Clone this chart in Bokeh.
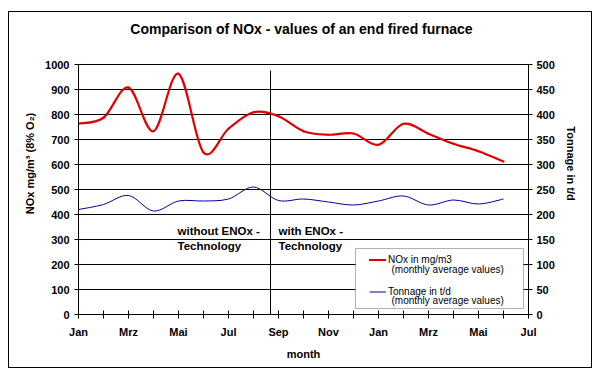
from bokeh.plotting import figure
from bokeh.models import (Range1d, LinearAxis, FixedTicker, Label, BoxAnnotation,
                          Legend, LegendItem, ColumnDataSource, Title)
from bokeh.embed import file_html
from bokeh.resources import INLINE

# ---------------- data ----------------
month_names = ["Jan", "Feb", "Mrz", "Apr", "Mai", "Jun", "Jul", "Aug", "Sep", "Okt",
               "Nov", "Dez", "Jan", "Feb", "Mrz", "Apr", "Mai", "Jun", "Jul"]
nox = [763, 787, 908, 733, 963, 648, 743, 809, 793, 733, 719, 724, 679, 763, 723, 683, 653, 612]
tonnage = [210, 220, 238, 207, 227, 227, 231, 255, 228, 231, 225, 219, 227, 237, 219, 229, 221, 231]
switch_month = 7.68   # change-over to ENOx technology
left_ticks = list(range(0, 1001, 100))
right_ticks = list(range(0, 501, 50))
title_text = "Comparison of NOx - values of an end fired furnace"
left_title = "NOx mg/m³ (8% O₂)"
right_title = "Tonnage in t/d"

FONT = "Liberation Sans"
RED = "#e00000"
BLUE = "#0000a0"

x_idx = list(range(len(nox)))


def smooth(xs, ys):
    """Excel-like smoothed line: cubic Bezier segments through the data points."""
    n = len(xs)
    out = dict(x0=[], y0=[], x1=[], y1=[], cx0=[], cy0=[], cx1=[], cy1=[])
    for i in range(n - 1):
        im, i2 = max(i - 1, 0), min(i + 2, n - 1)
        out["x0"].append(xs[i]); out["y0"].append(ys[i])
        out["x1"].append(xs[i + 1]); out["y1"].append(ys[i + 1])
        out["cx0"].append(xs[i] + (xs[i + 1] - xs[im]) / 6)
        out["cy0"].append(ys[i] + (ys[i + 1] - ys[im]) / 6)
        out["cx1"].append(xs[i + 1] - (xs[i2] - xs[i]) / 6)
        out["cy1"].append(ys[i + 1] - (ys[i2] - ys[i]) / 6)
    return ColumnDataSource(out)


# frame extends to the top of the chart area; headroom above 1000 holds the title
p = figure(width=582, height=355, output_backend="svg", toolbar_location=None,
           x_range=Range1d(0, len(month_names) - 1), y_range=Range1d(0, 1208),
           min_border_left=69, min_border_right=63, min_border_top=0, min_border_bottom=53,
           margin=(12, 12, 8, 9), styles={"outline": "1px solid black"})
p.extra_y_ranges = {"ton": Range1d(0, 604)}
p.outline_line_color = None
p.background_fill_color = "white"
p.border_fill_color = "white"

# axes
p.xaxis.ticker = FixedTicker(ticks=list(range(0, len(month_names), 2)),
                             minor_ticks=list(range(1, len(month_names), 2)))
p.xaxis.major_label_overrides = {i: month_names[i] for i in range(0, len(month_names), 2)}
p.xaxis.axis_label = "month"
p.yaxis.ticker = FixedTicker(ticks=left_ticks, minor_ticks=[])
p.yaxis.bounds = (left_ticks[0], left_ticks[-1])

raxis = LinearAxis(y_range_name="ton", ticker=FixedTicker(ticks=right_ticks, minor_ticks=[]),
                   bounds=(right_ticks[0], right_ticks[-1]))
p.add_layout(raxis, "right")

for ax in [p.xaxis[0], p.yaxis[0], raxis]:
    ax.axis_line_color = "black"
    ax.major_tick_line_color = "black"
    ax.minor_tick_line_color = "black"
    ax.major_tick_in = 4
    ax.major_tick_out = 4
    ax.minor_tick_in = 4
    ax.minor_tick_out = 4
    ax.major_label_text_font = FONT
    ax.major_label_text_font_style = "bold"
    ax.major_label_text_font_size = "11px"
    ax.major_label_text_color = "black"
    ax.axis_label_text_font = FONT
    ax.axis_label_text_font_style = "bold"
    ax.axis_label_text_font_size = "11px"
    ax.axis_label_text_color = "black"
p.yaxis.major_label_standoff = 5
raxis.major_label_standoff = 4
p.xaxis.major_label_standoff = 7
p.xaxis.axis_label_standoff = 7

# side titles, shifted so they are centred on the 0..1000 part of the axes
p.add_layout(Title(text=left_title, align="center", offset=-26, standoff=14,
                   text_font=FONT, text_font_style="bold", text_font_size="11px",
                   text_color="black"), "left")
p.add_layout(Title(text=right_title, align="center", offset=26, standoff=14,
                   text_font=FONT, text_font_style="bold", text_font_size="11px",
                   text_color="black"), "right")

p.xgrid.grid_line_color = None
p.ygrid.grid_line_color = "black"
p.ygrid.grid_line_width = 1

# change-over line
p.segment(x0=[switch_month], y0=[0], x1=[switch_month], y1=[976], line_color="black", line_width=1)

# series
r_nox = p.bezier(x0="x0", y0="y0", x1="x1", y1="y1", cx0="cx0", cy0="cy0", cx1="cx1", cy1="cy1",
                 source=smooth(x_idx, nox), line_color=RED, line_width=2.2, line_cap="round")
r_ton = p.bezier(x0="x0", y0="y0", x1="x1", y1="y1", cx0="cx0", cy0="cy0", cx1="cx1", cy1="cy1",
                 source=smooth(x_idx, tonnage), line_color=BLUE, line_width=1, y_range_name="ton")

# title
p.add_layout(Label(x=8.92, y=1144, text=title_text, text_align="center", text_baseline="middle",
                   text_font=FONT, text_font_style="bold", text_font_size="14px",
                   text_color="black"))

# annotations
for xx, txt in [(3.96, "without ENOx -\nTechnology"), (8.0, "with ENOx -\nTechnology")]:
    p.add_layout(Label(x=xx, y=360, text=txt, text_align="left", text_baseline="top",
                       text_font=FONT, text_font_style="bold", text_font_size="11.5px",
                       text_color="black", text_line_height=1.25))

# legend box
p.add_layout(BoxAnnotation(left=11.08, right=17.8, top=264, bottom=24,
                           fill_color="white", fill_alpha=1, line_color="black", line_width=1))
legend = Legend(items=[LegendItem(label="NOx in mg/m3", renderers=[r_nox]),
                       LegendItem(label="Tonnage in t/d", renderers=[r_ton])],
                location=(291, 16), padding=3, margin=0, spacing=19,
                glyph_width=17, glyph_height=13, label_height=13, label_standoff=2,
                border_line_color=None, background_fill_alpha=0,
                label_text_font=FONT, label_text_font_size="10px", label_text_color="black")
p.add_layout(legend)
for yy in [180, 56]:
    p.add_layout(Label(x=12.52, y=yy, text="(monthly average values)", text_align="left",
                       text_baseline="middle", text_font=FONT, text_font_size="10px",
                       text_color="black"))

open("out.html", "w").write(file_html(p, INLINE))
